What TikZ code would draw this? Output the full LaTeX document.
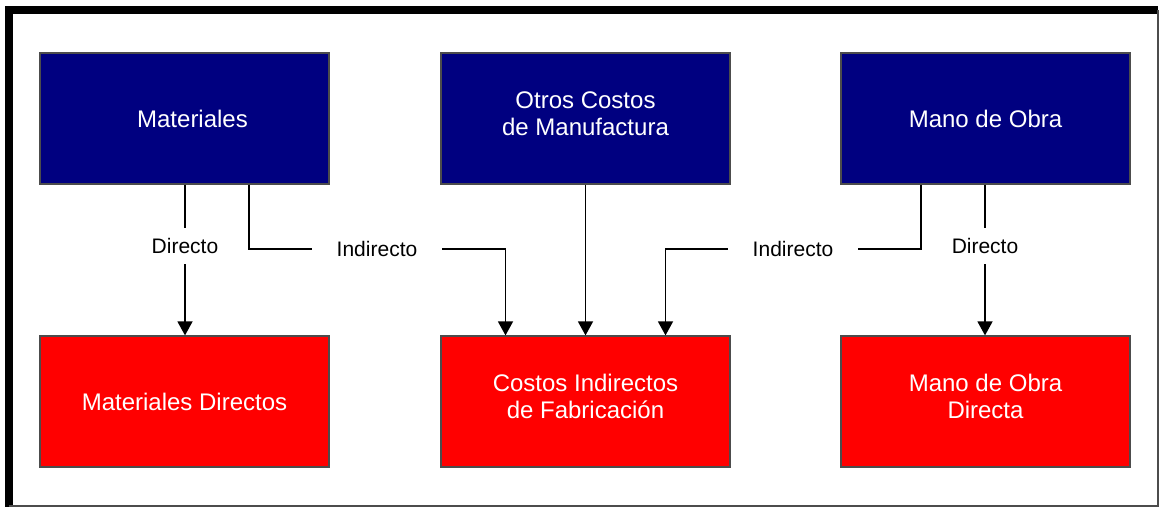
\documentclass[tikz,border=0pt]{standalone}
\usepackage{fontspec}
\setmainfont{Liberation Sans}
\usetikzlibrary{arrows.meta}
\definecolor{boxblue}{HTML}{000080}
\definecolor{boxred}{HTML}{FF0000}
\newcommand{\boxwidth}{144.5pt}
\newcommand{\boxheight}{65.5pt}
\tikzstyle{costbox}=[rectangle, draw=black!70, line width=0.6pt, text=white, align=center,
    minimum width=\boxwidth, minimum height=\boxheight, font=\fontsize{12}{13.5}\selectfont]
\tikzstyle{source}=[costbox, fill=boxblue]
\tikzstyle{target}=[costbox, fill=boxred]
\tikzstyle{twolines}=[text depth=5pt]
\tikzstyle{flowlabel}=[inner xsep=12pt, inner ysep=5pt, font=\fontsize{10.5}{12}\selectfont]
\tikzstyle{flow}=[line width=0.75pt, -{Triangle[length=7pt,width=7.5pt]}]

\begin{document}
\begin{tikzpicture}[x=0.5pt, y=-0.5pt, line width=0.75pt]
        \useasboundingbox (0,0) rectangle (1161,507);

        % frame
        \draw[line width=4pt] (9,507) -- (9,10.5) -- (1158,10.5);
        \draw[line width=0.75pt, black!70] (1158,10.5) -- (1158,506) -- (9,506);

        % cost sources
        \node[source] (mat) at (184.5,118.5) {\hspace*{8pt}Materiales};
        \node[source, twolines] (otros) at (585.5,118.5) {Otros Costos\\de Manufactura};
        \node[source] (mano) at (985.5,118.5) {Mano de Obra};

        % cost targets
        \node[target] (matDir) at (184.5,401.5) {Materiales Directos};
        \node[target, twolines] (cif) at (585.5,401.5) {Costos Indirectos\\de Fabricaci\'on};
        \node[target, twolines] (manoDir) at (985.5,401.5) {Mano de Obra\\Directa};

        % labels on the connections
        \node[flowlabel] (dirMat) at (185,246) {Directo};
        \node[flowlabel] (indMat) at (377,249) {Indirecto};
        \node[flowlabel] (indMano) at (793,249) {Indirecto};
        \node[flowlabel] (dirMano) at (985,246) {Directo};

        % direct flows
        \draw (mat.south -| dirMat) -- (dirMat);
        \draw[flow] (dirMat) -- (matDir.north -| dirMat);
        \draw (mano.south -| dirMano) -- (dirMano);
        \draw[flow] (dirMano) -- (manoDir.north -| dirMano);

        % indirect flows
        \draw (249,0 |- mat.south) |- (indMat);
        \draw[flow] (indMat) -| (cif.north -| 505.5,0);
        \draw[flow] (otros) -- (cif);
        \draw (921,0 |- mano.south) |- (indMano);
        \draw[flow] (indMano) -| (cif.north -| 665.5,0);
    \end{tikzpicture}
\end{document}
